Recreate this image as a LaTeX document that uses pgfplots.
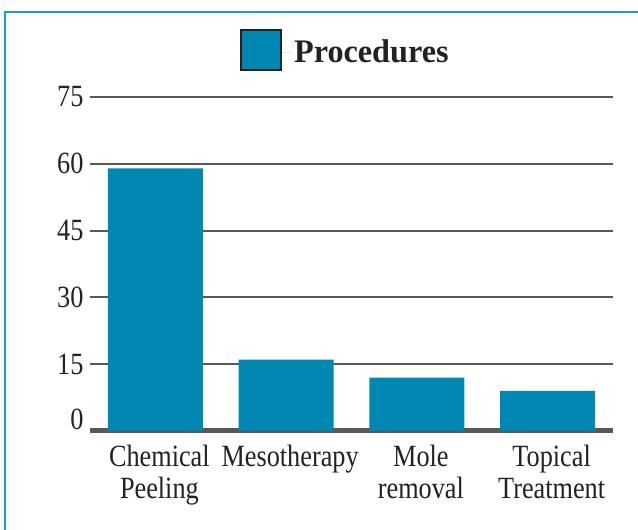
\documentclass[border=0pt]{standalone}
\usepackage{fontspec}
\setmainfont{Liberation Serif}[FakeStretch=0.85, BoldFeatures={FakeStretch=0.98}]
\usepackage{pgfplots}
\pgfplotsset{compat=1.18}
\definecolor{barc}{HTML}{0088B2}
\definecolor{framec}{HTML}{1E9BCB}
\definecolor{gridc}{HTML}{585858}
\definecolor{txtc}{HTML}{222222}
\begin{document}
\begin{tikzpicture}[x=1bp,y=1bp]
\path[use as bounding box] (-90,-99) rectangle (548,431);
\draw[framec, line width=2bp] (-85,-140) rectangle (600,419);
\begin{axis}[
  scale only axis, width=523bp, height=334bp,
  xmin=-0.5, xmax=3.5, ymin=0, ymax=75,
  ybar, bar width=95bp, bar shift=0pt,
  axis line style={draw=none},
  major tick length=0pt,
  ytick={15,30,45,60,75},
  extra y ticks={0},
  extra y tick style={grid=major, major grid style={gridc, line width=5bp},
     tick label style={yshift=12bp}},
  ymajorgrids, major grid style={gridc, line width=2bp},
  xtick=data,
  xticklabels={{Chemical\\Peeling},{Mesotherapy},{Mole\\removal},{Topical\\Treatment}},
  x tick label style={align=center, font=\fontsize{31}{32}\selectfont, text=txtc, xshift=4bp, yshift=-11bp},
  y tick label style={font=\fontsize{31}{31}\selectfont, text=txtc, xshift=-3bp},
  /pgf/number format/assume math mode=true,
  legend style={at={(0.488,1.1407)}, anchor=center, draw=none, fill=none,
     font=\bfseries\fontsize{33}{36}\selectfont, text=txtc},
  legend image code/.code={\path (0bp,0bp) -- (51bp,0bp);
     \draw[fill=barc, draw=txtc, line width=2.5bp] (0bp,-18bp) rectangle (40bp,22bp);},
]
\addplot[fill=barc, draw=none] coordinates {(0,59) (1,16) (2,12) (3,9)};
\addlegendentry{Procedures}
\end{axis}
\end{tikzpicture}
\end{document}
